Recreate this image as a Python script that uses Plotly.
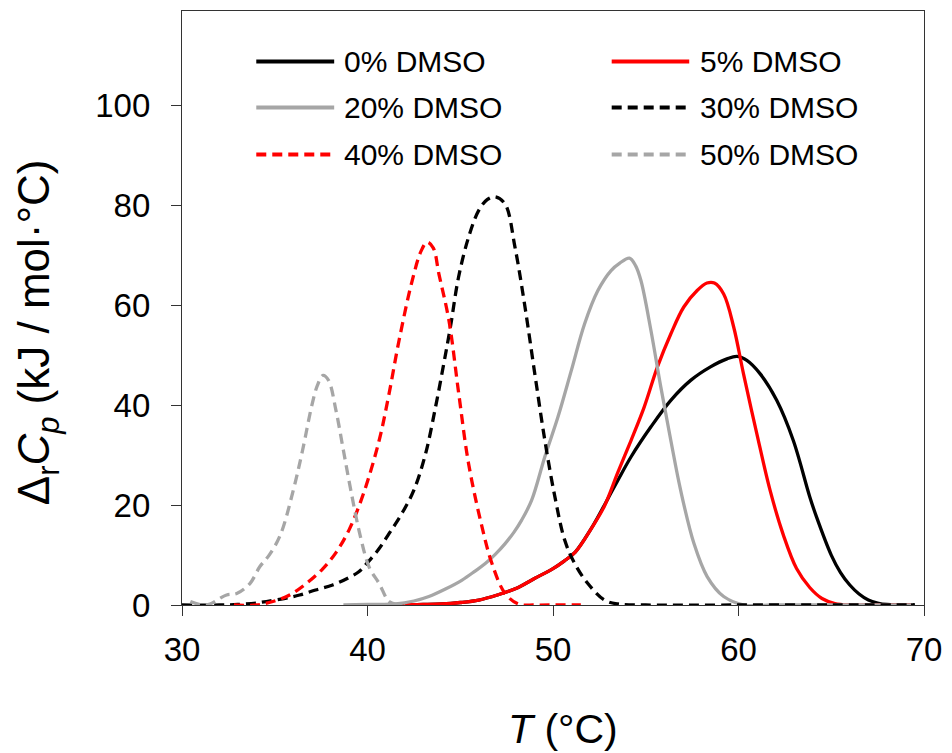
import plotly.graph_objects as go

# ---- data: excess heat capacity curves, ΔrCp (kJ / mol·°C) vs T (°C) ----
t_0 = [40.5, 42, 43, 44, 45, 46, 47, 48, 49, 50, 50.6, 51.2, 52.06, 52.77, 53.13, 53.5,
       54.21, 55.28, 56.35, 57.42, 58.49, 59.38, 59.92, 60.45, 61.17, 62.06, 62.95,
       63.84, 64.2, 65, 65.5, 66, 66.5, 67, 67.5, 68, 69.5]
cp_0 = [0, 0.05, 0.1, 0.2, 0.5, 1, 2, 3.3, 5.3, 7.3, 8.8, 10.6, 15.3, 20, 22.5, 25,
        29.7, 35.7, 41, 45, 47.7, 49.3, 49.8, 49, 46.3, 41, 33,
        21.7, 17.7, 10, 6.5, 4, 2.2, 1, 0.4, 0.1, 0]

t_5 = [40.5, 42, 43, 44, 45, 46, 47, 48, 49, 50, 50.6, 51.2, 52.06, 52.77, 53.49, 54.21,
       54.92, 55.63, 56.35, 57.05, 57.77, 58.3, 58.7, 59.2, 59.74, 60.27, 60.99, 61.7,
       62.42, 63.13, 63.84, 64.5, 65.2, 66, 67, 69.3]
cp_5 = [0, 0.05, 0.1, 0.2, 0.5, 1, 2, 3.3, 5.3, 7.3, 8.8, 10.6, 15.3, 19.8, 26.5, 33,
        39.7, 47.7, 54.3, 59.7, 63, 64.5, 64.5, 62.3, 55.7, 46.3, 34.3, 23,
        14, 7.3, 3.5, 1.3, 0.3, 0, 0, 0]

t_20 = [38.7, 40, 41.52, 42.5, 43.31, 44.2, 45.1, 45.8, 46.35, 46.9, 47.42, 47.9, 48.31,
        48.85, 49.56, 50.27, 50.99, 51.7, 52.42, 53.13, 53.6, 54.12, 54.45, 54.74, 55.28,
        55.81, 56.35, 56.88, 57.6, 58.31, 59.2, 60.3, 62, 65, 69.3]
cp_20 = [0, 0.1, 0.2, 0.8, 1.7, 3.2, 5, 6.8, 8.3, 10.2, 12.3, 14.6, 17,
         21, 29.7, 37.7, 47, 56.3, 63, 67, 68.5, 69.5, 68, 65, 55,
         43.7, 33, 23, 12.3, 5.7, 1.7, 0, 0, 0, 0]

t_30 = [30, 32, 33, 34, 34.55, 35.5, 36.34, 37.2, 38.12, 39, 39.55, 40, 40.63, 41.16, 41.5,
        41.88, 42.5, 43.13, 43.67, 44.11, 44.47, 44.91, 45.45, 45.99, 46.45, 46.88, 47.42,
        47.95, 48.49, 49.02, 49.56, 50.1, 50.63, 51.17, 51.88, 52.77, 53.5, 55, 60, 65, 69.5]
cp_30 = [0, 0, 0.1, 0.4, 0.7, 1.3, 2, 3, 4, 5.5, 6.7, 8.5, 11.3, 14.3, 16.2,
         18.5, 23, 30.3, 39.7, 48.3, 55.7, 65.7, 73.7, 79, 81.2, 81.8, 80.3,
         71.7, 59.7, 46.3, 33, 21.7, 13, 8.3, 4.3, 1, 0.2, 0, 0, 0, 0]

t_40 = [32.8, 34, 34.9, 35.8, 36.7, 37.6, 38.3, 39, 39.8, 40.63, 41.16, 41.7, 42.41, 42.9,
        43.22, 43.55, 43.85, 44.39, 44.92, 45.45, 46.17, 46.71, 47.42, 48.14, 49, 50, 51.5]
cp_40 = [0, 0, 0.7, 2, 4.3, 7.3, 10.5, 15, 22.5, 33, 42.3, 53, 65, 71,
         72.7, 71.5, 66.3, 57, 42.3, 28.3, 15.7, 8.3, 2.3, 0.2, 0, 0, 0]

t_50 = [30.45, 31.3, 32.4, 32.95, 33.66, 34.2, 34.7, 35.3, 36, 36.5, 37, 37.3, 37.6, 37.9,
        38.3, 38.7, 39.1, 39.6, 40.1, 40.63, 41.16, 41.6, 42]
cp_50 = [0.7, 0, 2, 2.3, 4.3, 7.7, 10, 14, 23, 31, 40, 44, 46, 45,
         39, 31, 23, 14, 7.5, 4.3, 0.7, 0.1, 0]

series_names = ["0% DMSO", "5% DMSO", "20% DMSO", "30% DMSO", "40% DMSO", "50% DMSO"]
series_t = [t_0, t_5, t_20, t_30, t_40, t_50]
series_cp = [cp_0, cp_5, cp_20, cp_30, cp_40, cp_50]

x_ticks = [30, 40, 50, 60, 70]
y_ticks = [0, 20, 40, 60, 80, 100]

# ---- styling ----
FONT = "Liberation Sans, Arial, sans-serif"
BLACK, RED, GRAY = "#000000", "#ff0000", "#a6a6a6"
colors = [BLACK, RED, GRAY, BLACK, RED, GRAY]
DASHED = "10px,6px"
dashes = ["solid", "solid", "solid", DASHED, DASHED, DASHED]
LW = 3.3

fig = go.Figure()
for name, t, cp, c, d in zip(series_names, series_t, series_cp, colors, dashes):
    fig.add_trace(go.Scatter(
        x=t, y=cp, name=name, mode="lines",
        line=dict(color=c, width=LW, dash=d, shape="spline", smoothing=1.0),
        showlegend=False, hoverinfo="x+y+name",
    ))

# two-column key drawn inside the plot area
rows_y = [0.9148, 0.8375, 0.7585]
cols = [(0.1001, 0.2051, 0.2162), (0.5791, 0.6836, 0.6950)]
shapes = []
annotations = []
for i, (name, c, d) in enumerate(zip(series_names, colors, dashes)):
    r, k = divmod(i, 2)
    x0, x1, xt = cols[k]
    y = rows_y[r]
    shapes.append(dict(type="line", xref="paper", yref="paper",
                       x0=x0, x1=x1, y0=y, y1=y,
                       line=dict(color=c, width=LW + 0.7, dash=d)))
    annotations.append(dict(xref="paper", yref="paper", x=xt, y=y,
                            xanchor="left", yanchor="middle", showarrow=False,
                            text=name, font=dict(family=FONT, size=30, color="#000")))

# axis titles
annotations.append(dict(
    xref="paper", yref="paper", x=-0.1944, y=0.4588, xanchor="center", yanchor="middle",
    textangle=-90, showarrow=False,
    text="Δ<sub>r</sub><i>C</i><sub><i>p</i></sub> (kJ / mol·°C)",
    font=dict(family=FONT, size=44, color="#000")))
annotations.append(dict(
    xref="paper", yref="paper", x=0.5134, y=-0.2084, xanchor="center", yanchor="middle",
    showarrow=False, text="<i>T</i> (°C)",
    font=dict(family=FONT, size=41, color="#000")))

AXIS_LINE = "#333333"
fig.update_layout(
    width=952, height=753,
    margin=dict(l=182, r=24, t=10, b=148),
    paper_bgcolor="white", plot_bgcolor="white",
    font=dict(family=FONT, color="#000"),
    shapes=shapes, annotations=annotations,
    xaxis=dict(range=[30, 70], tickvals=x_ticks, ticks="outside", ticklen=10,
               tickwidth=1.3, tickcolor=AXIS_LINE, showline=True, linecolor=AXIS_LINE,
               linewidth=1.3, mirror=True, showgrid=False, zeroline=False,
               tickfont=dict(family=FONT, size=33, color="#000"), ticklabelstandoff=5),
    yaxis=dict(range=[0, 119], tickvals=y_ticks, ticks="outside", ticklen=10,
               tickwidth=1.3, tickcolor=AXIS_LINE, showline=True, linecolor=AXIS_LINE,
               linewidth=1.3, mirror=True, showgrid=False, zeroline=False,
               tickfont=dict(family=FONT, size=33, color="#000"), ticklabelstandoff=14),
)

fig.write_html("out.html")
